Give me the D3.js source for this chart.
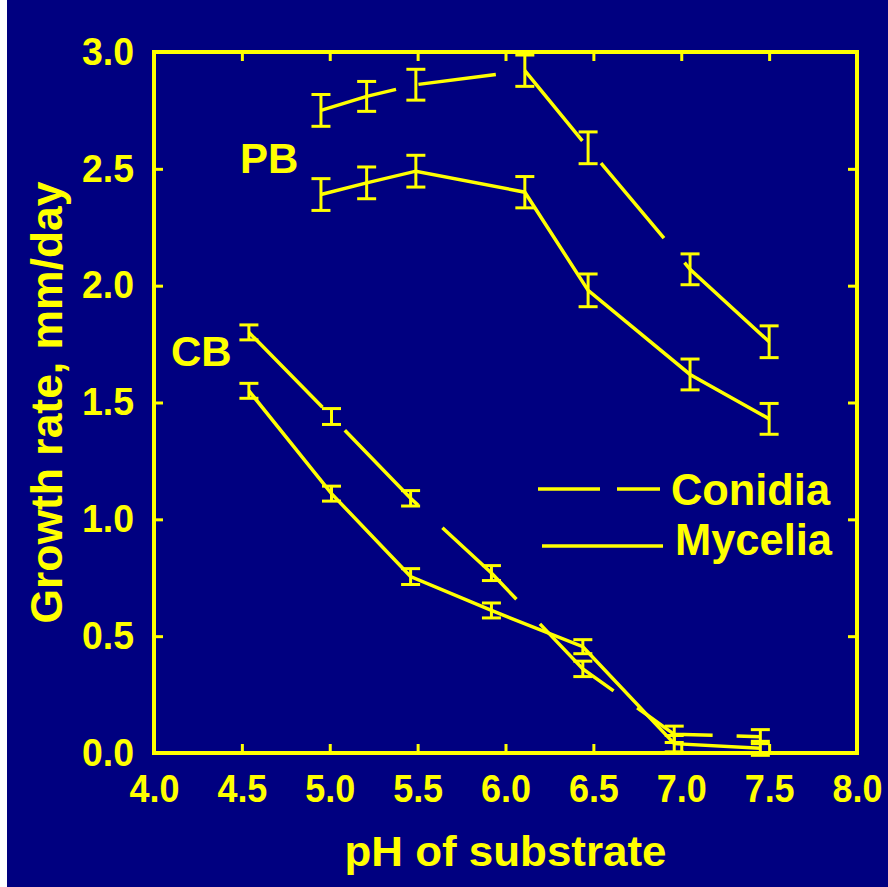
<!DOCTYPE html>
<html>
<head>
<meta charset="utf-8">
<script src="https://cdn.jsdelivr.net/npm/d3@7"></script>
<style>
  body { margin: 0; background: #ffffff; }
  svg { display: block; }
</style>
</head>
<body>
<div id="chart"></div>
<script>
// data
const pbPH = [4.95, 5.21, 5.49, 6.11, 6.47, 7.05, 7.50]
const pbConidia = [2.75, 2.81, 2.86, 2.92, 2.59, 2.07, 1.76]
const pbConidiaErr = [0.068, 0.064, 0.066, 0.067, 0.068, 0.066, 0.068]
const pbMycelia = [2.39, 2.44, 2.49, 2.40, 1.98, 1.62, 1.43]
const pbMyceliaErr = [0.068, 0.068, 0.068, 0.067, 0.07, 0.066, 0.066]

const cbPH = [4.54, 5.01, 5.46, 5.92, 6.44, 6.96, 7.45]
const cbConidia = [1.80, 1.44, 1.09, 0.77, 0.36, 0.08, 0.07]
const cbConidiaErr = [0.032, 0.034, 0.033, 0.032, 0.033, 0.035, 0.03]
const cbMycelia = [1.55, 1.11, 0.755, 0.61, 0.455, 0.04, 0.02]
const cbMyceliaErr = [0.032, 0.032, 0.034, 0.032, 0.03, 0.035, 0.03]

const xTicks = [4.0, 4.5, 5.0, 5.5, 6.0, 6.5, 7.0, 7.5, 8.0]
const yTicks = [0.0, 0.5, 1.0, 1.5, 2.0, 2.5, 3.0]

const xTitle = "pH of substrate"
const yTitle = "Growth rate, mm/day"
const legendNames = ["Conidia", "Mycelia"]
const groupLabels = ["PB", "CB"]

function drawChart(){

    const yellow = "#ffff00"
    const navy = "#000080"
    const font = "'Liberation Sans', Arial, sans-serif"

    // 1. build series from the arrays
    const zip = (xs, ys, es) => xs.map((x, i) => ({x: x, y: ys[i], e: es[i]}))
    const series = [
        {pts: zip(pbPH, pbConidia, pbConidiaErr), dash: "78,23,78,29,91,29,98,32,400"},
        {pts: zip(pbPH, pbMycelia, pbMyceliaErr), dash: null},
        {pts: zip(cbPH, cbConidia, cbConidiaErr), dash: "105,32,105,33,103,34,100,29,84,24,200"},
        {pts: zip(cbPH, cbMycelia, cbMyceliaErr), dash: null},
    ]

    // 2. dimensions
    let dimensions = {
        width: 888,
        height: 887,
        margin: {top: 52, right: 31, bottom: 134, left: 154},
    }
    dimensions.boundedWidth = dimensions.width - dimensions.margin.left - dimensions.margin.right
    dimensions.boundedHeight = dimensions.height - dimensions.margin.top - dimensions.margin.bottom

    // 3. canvas
    const wrapper = d3.select("#chart")
      .append("svg")
        .attr("width", dimensions.width)
        .attr("height", dimensions.height)

    wrapper.append("rect")
        .attr("x", 7).attr("y", 0)
        .attr("width", dimensions.width - 7)
        .attr("height", dimensions.height)
        .attr("fill", navy)

    const bounds = wrapper.append("g")
        .attr("transform", `translate(${dimensions.margin.left},${dimensions.margin.top})`)

    // 4. scales
    const xScale = d3.scaleLinear()
        .domain([4, 8])
        .range([0, dimensions.boundedWidth])

    const yScale = d3.scaleLinear()
        .domain([0, 3])
        .range([dimensions.boundedHeight, 0])

    // 5. axes (ticks point inward on all four sides)
    const fmt = d3.format(".1f")
    const inner = -9

    const xAxis = bounds.append("g")
        .attr("transform", `translate(0,${dimensions.boundedHeight})`)
        .call(d3.axisBottom(xScale).tickValues(xTicks).tickSize(inner).tickPadding(22).tickFormat(fmt))
    bounds.append("g")
        .call(d3.axisTop(xScale).tickValues(xTicks).tickSize(inner).tickFormat(""))
    const yAxis = bounds.append("g")
        .call(d3.axisLeft(yScale).tickValues(yTicks).tickSize(inner).tickPadding(20).tickFormat(fmt))
    bounds.append("g")
        .attr("transform", `translate(${dimensions.boundedWidth},0)`)
        .call(d3.axisRight(yScale).tickValues(yTicks).tickSize(inner).tickFormat(""))

    bounds.selectAll(".domain").remove()
    bounds.selectAll(".tick line")
        .attr("stroke", yellow)
        .attr("stroke-width", 3)

    xAxis.selectAll("text")
        .attr("fill", yellow)
        .attr("font-family", font)
        .attr("font-weight", "bold")
        .attr("font-size", 38)
        .attr("textLength", 50)
        .attr("lengthAdjust", "spacingAndGlyphs")

    yAxis.selectAll("text")
        .attr("fill", yellow)
        .attr("font-family", font)
        .attr("font-weight", "bold")
        .attr("font-size", 38)
        .attr("textLength", 52)
        .attr("lengthAdjust", "spacingAndGlyphs")

    // frame
    bounds.append("rect")
        .attr("width", dimensions.boundedWidth)
        .attr("height", dimensions.boundedHeight)
        .attr("fill", "none")
        .attr("stroke", yellow)
        .attr("stroke-width", 4)

    // 6. data
    const lineGenerator = d3.line()
        .x(d => xScale(d.x))
        .y(d => yScale(d.y))

    series.forEach(s => {
        bounds.append("path")
            .attr("d", lineGenerator(s.pts))
            .attr("fill", "none")
            .attr("stroke", yellow)
            .attr("stroke-width", 3.5)
            .attr("stroke-dasharray", s.dash)

        const bars = bounds.append("g")
            .selectAll("g")
            .data(s.pts)
            .enter().append("g")
                .attr("stroke", yellow)
                .attr("stroke-width", 3)

        bars.append("line")
            .attr("x1", d => xScale(d.x)).attr("x2", d => xScale(d.x))
            .attr("y1", d => yScale(d.y - d.e)).attr("y2", d => yScale(d.y + d.e))
        bars.append("line")
            .attr("x1", d => xScale(d.x) - 9.5).attr("x2", d => xScale(d.x) + 9.5)
            .attr("y1", d => yScale(d.y + d.e)).attr("y2", d => yScale(d.y + d.e))
        bars.append("line")
            .attr("x1", d => xScale(d.x) - 9.5).attr("x2", d => xScale(d.x) + 9.5)
            .attr("y1", d => yScale(d.y - d.e)).attr("y2", d => yScale(d.y - d.e))
    })

    // 7. labels, legend, titles
    const label = (sel) => sel
        .attr("fill", yellow)
        .attr("font-family", font)
        .attr("font-weight", "bold")

    wrapper.append("text").call(label)
        .attr("x", 240).attr("y", 173)
        .attr("font-size", 42)
        .text(groupLabels[0])
    wrapper.append("text").call(label)
        .attr("x", 171).attr("y", 366)
        .attr("font-size", 42)
        .text(groupLabels[1])

    // legend
    wrapper.append("line")
        .attr("x1", 538).attr("x2", 660)
        .attr("y1", 489).attr("y2", 489)
        .attr("stroke", yellow).attr("stroke-width", 3.5)
        .attr("stroke-dasharray", "62,17")
    wrapper.append("line")
        .attr("x1", 542).attr("x2", 663)
        .attr("y1", 546).attr("y2", 546)
        .attr("stroke", yellow).attr("stroke-width", 3.5)

    wrapper.append("text").call(label)
        .attr("x", 671).attr("y", 505)
        .attr("font-size", 45)
        .attr("textLength", 159)
        .attr("lengthAdjust", "spacingAndGlyphs")
        .text(legendNames[0])
    wrapper.append("text").call(label)
        .attr("x", 675).attr("y", 555)
        .attr("font-size", 45)
        .attr("textLength", 157)
        .attr("lengthAdjust", "spacingAndGlyphs")
        .text(legendNames[1])

    // axis titles
    wrapper.append("text").call(label)
        .attr("x", dimensions.margin.left + dimensions.boundedWidth / 2)
        .attr("y", 866)
        .attr("text-anchor", "middle")
        .attr("font-size", 42)
        .attr("textLength", 322)
        .attr("lengthAdjust", "spacingAndGlyphs")
        .text(xTitle)

    wrapper.append("text").call(label)
        .attr("transform", `translate(62,${dimensions.margin.top + dimensions.boundedHeight / 2}) rotate(-90)`)
        .attr("text-anchor", "middle")
        .attr("font-size", 45)
        .attr("textLength", 442)
        .attr("lengthAdjust", "spacingAndGlyphs")
        .text(yTitle)
}

drawChart();
</script>
</body>
</html>
